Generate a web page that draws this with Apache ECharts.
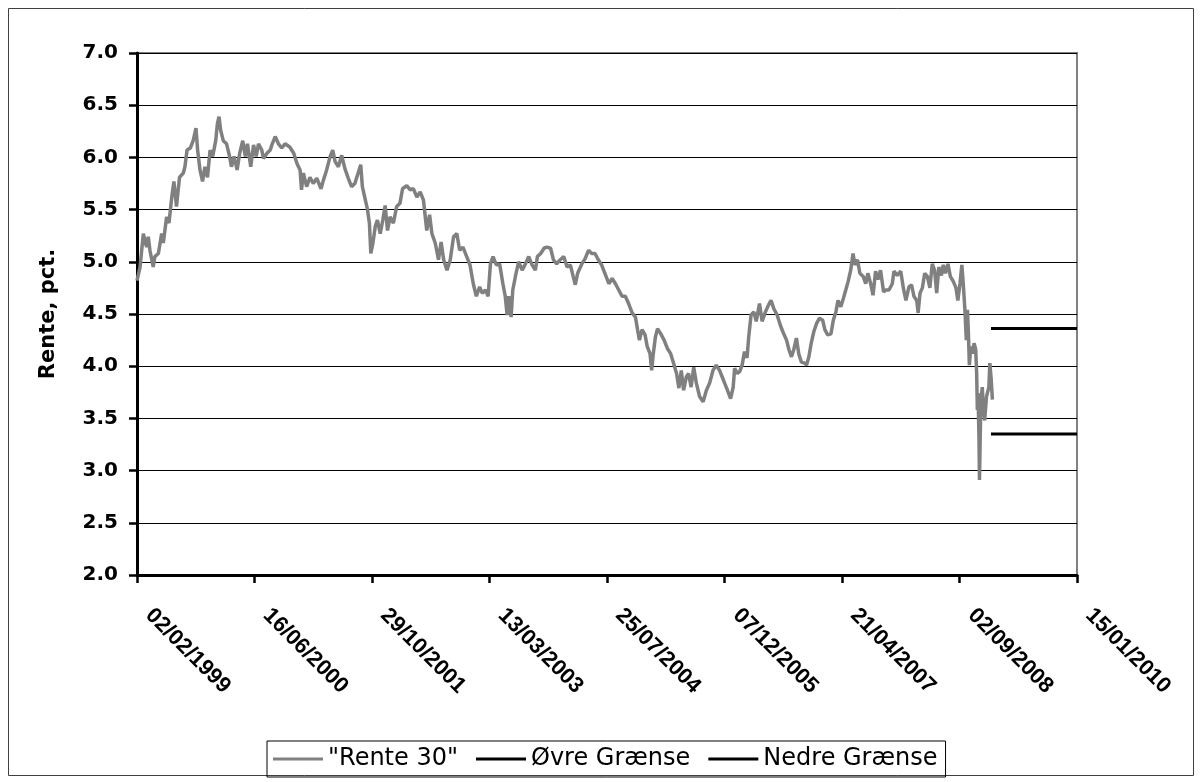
<!DOCTYPE html>
<html>
<head>
<meta charset="utf-8">
<script src="https://cdn.jsdelivr.net/npm/echarts@6/dist/echarts.min.js"></script>
<style>
html,body{margin:0;padding:0;background:#fff;}
#chart{width:1202px;height:782px;}
</style>
</head>
<body>
<div id="chart"></div>
<script>
// ---- data ----
const rente30Dates = [
'1999-02-02','1999-02-15','1999-03-01','1999-03-15','1999-03-22','1999-03-29','1999-04-12','1999-04-19','1999-05-04','1999-05-18',
'1999-05-25','1999-06-08','1999-06-18','1999-06-30','1999-07-09','1999-07-20','1999-08-02','1999-08-18','1999-08-25','1999-09-03',
'1999-09-17','1999-09-29','1999-10-11','1999-10-18','1999-10-28','1999-11-08','1999-11-18','1999-11-29','1999-12-10','1999-12-21',
'2000-01-03','2000-01-10','2000-01-17','2000-01-24','2000-02-04','2000-02-18','2000-03-01','2000-03-10','2000-03-21','2000-04-03',
'2000-04-14','2000-04-27','2000-05-08','2000-05-17','2000-05-31','2000-06-12','2000-06-23','2000-07-03','2000-07-17','2000-07-24',
'2000-08-08','2000-08-22','2000-08-29','2000-09-12','2000-09-26','2000-10-10','2000-10-24','2000-11-13','2000-11-30','2000-12-14',
'2000-12-27','2001-01-02','2001-01-10','2001-01-24','2001-02-07','2001-02-21','2001-03-08','2001-03-26','2001-04-05','2001-04-19',
'2001-05-04','2001-05-15','2001-05-25','2001-06-08','2001-06-22','2001-07-06','2001-07-20','2001-08-03','2001-08-17','2001-08-31',
'2001-09-11','2001-09-18','2001-09-28','2001-10-09','2001-10-18','2001-10-24','2001-11-02','2001-11-12','2001-11-21','2001-12-03',
'2001-12-14','2001-12-24','2002-01-03','2002-01-14','2002-01-28','2002-02-11','2002-02-25','2002-03-08','2002-03-26','2002-04-09',
'2002-04-23','2002-05-08','2002-05-22','2002-06-05','2002-06-19','2002-07-01','2002-07-11','2002-07-25','2002-08-08','2002-08-19',
'2002-08-30','2002-09-13','2002-09-27','2002-10-11','2002-10-25','2002-11-06','2002-11-20','2002-12-06','2002-12-20','2003-01-03',
'2003-01-16','2003-01-30','2003-02-10','2003-02-24','2003-03-07','2003-03-17','2003-03-28','2003-04-11','2003-04-25','2003-05-09',
'2003-05-19','2003-05-27','2003-06-03','2003-06-13','2003-06-20','2003-07-04','2003-07-15','2003-07-30','2003-08-13','2003-08-27',
'2003-09-10','2003-09-24','2003-10-03','2003-10-17','2003-10-31','2003-11-12','2003-11-28','2003-12-10','2003-12-24','2004-01-08',
'2004-01-23','2004-02-06','2004-02-20','2004-03-03','2004-03-12','2004-03-22','2004-04-09','2004-04-23','2004-05-07','2004-05-21',
'2004-06-04','2004-06-18','2004-07-02','2004-07-16','2004-08-02','2004-08-16','2004-08-30','2004-09-13','2004-09-27','2004-10-11',
'2004-10-25','2004-11-09','2004-11-23','2004-12-02','2004-12-10','2004-12-21','2005-01-03','2005-01-12','2005-01-24','2005-01-31',
'2005-02-07','2005-02-16','2005-02-25','2005-03-11','2005-03-25','2005-04-08','2005-04-22','2005-05-04','2005-05-17','2005-05-27',
'2005-06-06','2005-06-16','2005-06-28','2005-07-07','2005-07-18','2005-07-29','2005-08-09','2005-08-23','2005-09-07','2005-09-21',
'2005-10-05','2005-10-19','2005-11-02','2005-11-16','2005-12-02','2005-12-16','2006-01-02','2006-01-13','2006-01-19','2006-01-31',
'2006-02-10','2006-02-20','2006-03-02','2006-03-13','2006-03-20','2006-03-30','2006-04-11','2006-04-21','2006-05-05','2006-05-16',
'2006-05-30','2006-06-13','2006-06-23','2006-07-05','2006-07-19','2006-08-02','2006-08-16','2006-08-28','2006-09-07','2006-09-18',
'2006-09-28','2006-10-09','2006-10-19','2006-10-30','2006-11-13','2006-11-21','2006-12-01','2006-12-11','2006-12-22','2007-01-03',
'2007-01-15','2007-01-29','2007-02-07','2007-02-19','2007-03-05','2007-03-15','2007-03-26','2007-04-04','2007-04-16','2007-04-27',
'2007-05-07','2007-05-17','2007-05-28','2007-06-07','2007-06-15','2007-06-26','2007-07-06','2007-07-20','2007-07-31','2007-08-09',
'2007-08-21','2007-08-31','2007-09-11','2007-09-21','2007-10-02','2007-10-15','2007-10-24','2007-11-07','2007-11-21','2007-11-28',
'2007-12-12','2007-12-27','2008-01-07','2008-01-18','2008-01-31','2008-02-11','2008-02-21','2008-03-04','2008-03-10','2008-03-18',
'2008-03-28','2008-04-07','2008-04-18','2008-04-29','2008-05-09','2008-05-19','2008-05-28','2008-06-06','2008-06-17','2008-06-25',
'2008-07-04','2008-07-15','2008-07-25','2008-08-07','2008-08-18','2008-08-26','2008-09-04','2008-09-12','2008-09-18','2008-09-25',
'2008-10-01','2008-10-06','2008-10-10','2008-10-14','2008-10-20','2008-10-27','2008-11-03','2008-11-10','2008-11-14','2008-11-17',
'2008-11-20','2008-11-24','2008-11-26','2008-11-28','2008-12-02','2008-12-08','2008-12-12','2008-12-18','2008-12-26','2009-01-05',
'2009-01-09','2009-01-15','2009-01-20'
];
const rente30Values = [
4.82,4.95,5.27,5.14,5.24,5.11,4.95,5.05,5.08,5.27,
5.18,5.43,5.37,5.62,5.77,5.53,5.81,5.85,5.91,6.07,
6.09,6.16,6.28,6.07,5.88,5.77,5.91,5.81,6.07,6.01,
6.16,6.32,6.39,6.26,6.16,6.13,6.02,5.91,6.01,5.88,
6.04,6.16,6.01,6.13,5.91,6.12,6.01,6.13,6.07,5.99,
6.04,6.07,6.12,6.20,6.13,6.09,6.13,6.10,6.04,5.94,
5.88,5.69,5.85,5.72,5.81,5.75,5.80,5.70,5.78,5.88,
6.01,6.07,5.96,5.91,6.02,5.89,5.80,5.72,5.75,5.85,
5.93,5.72,5.62,5.51,5.37,5.08,5.18,5.34,5.40,5.27,
5.40,5.54,5.30,5.43,5.37,5.53,5.56,5.70,5.73,5.69,
5.70,5.62,5.67,5.59,5.30,5.45,5.27,5.18,5.02,5.19,
5.02,4.92,5.02,5.24,5.27,5.11,5.14,5.05,4.97,4.79,
4.67,4.76,4.70,4.73,4.67,4.98,5.05,4.97,4.98,4.79,
4.67,4.49,4.67,4.47,4.73,4.89,5.00,4.92,4.98,5.05,
4.97,4.92,5.05,5.08,5.13,5.14,5.13,5.02,4.98,5.02,
5.05,4.95,4.97,4.86,4.78,4.89,4.98,5.03,5.11,5.08,
5.08,5.02,4.97,4.89,4.79,4.84,4.79,4.73,4.67,4.67,
4.60,4.51,4.47,4.35,4.25,4.35,4.30,4.19,4.12,3.96,
4.12,4.28,4.36,4.31,4.25,4.17,4.12,4.03,3.93,3.79,
3.96,3.77,3.90,3.93,3.80,3.99,3.84,3.71,3.66,3.77,
3.84,3.96,4.01,3.96,3.87,3.79,3.69,3.80,3.98,3.93,
3.95,4.01,4.14,4.08,4.28,4.49,4.52,4.43,4.60,4.43,
4.52,4.59,4.63,4.55,4.49,4.39,4.31,4.25,4.16,4.09,
4.16,4.27,4.12,4.04,4.03,4.01,4.09,4.22,4.33,4.41,
4.46,4.44,4.35,4.30,4.31,4.44,4.52,4.63,4.57,4.65,
4.73,4.81,4.92,5.08,4.97,5.02,4.89,4.86,4.79,4.89,
4.79,4.68,4.91,4.83,4.92,4.71,4.73,4.73,4.79,4.91,
4.87,4.91,4.75,4.63,4.76,4.78,4.67,4.63,4.51,4.70,
4.75,4.89,4.86,4.75,4.98,4.92,4.70,4.95,4.87,4.97,
4.89,4.98,4.86,4.81,4.75,4.63,4.79,4.97,4.79,4.54,
4.25,4.54,4.31,4.01,4.19,4.12,4.22,4.16,3.93,3.58,
3.74,3.29,2.91,3.17,3.68,3.80,3.61,3.48,3.71,3.80,
4.03,3.87,3.68
];
const boundDates = ['2009-01-14','2010-01-15'];
const upperBound = [4.36, 4.36];   // "Øvre Grænse"
const lowerBound = [3.35, 3.35];   // "Nedre Grænse"
const xTickLabels = ['02/02/1999','16/06/2000','29/10/2001','13/03/2003','25/07/2004','07/12/2005','21/04/2007','02/09/2008','15/01/2010'];
const seriesNames = ['"Rente 30"','Øvre Grænse','Nedre Grænse'];

// ---- helpers: x axis counts days from 02/02/1999 (500 days between ticks) ----
const ORIGIN = Date.UTC(1999, 1, 2);
const DAY = 86400000;
function dayOffset(s) {
  const p = s.split('-').map(Number);
  return Math.round((Date.UTC(p[0], p[1] - 1, p[2]) - ORIGIN) / DAY);
}
function pairs(dates, vals) { return dates.map((d, i) => [dayOffset(d), vals[i]]); }

const chart = echarts.init(document.getElementById('chart'), null, {renderer: 'canvas'});
const wideFont = 'DejaVu Sans';
chart.setOption({
  animation: false,
  backgroundColor: '#ffffff',
  graphic: [{
    type: 'rect', z: -1, silent: true,
    shape: {x: 8.5, y: 8.5, width: 1185, height: 767},
    style: {fill: 'none', stroke: '#404040', lineWidth: 1}
  }],
  grid: {
    left: 137, right: 125, top: 53, bottom: 207,
    show: true, borderColor: '#808080', borderWidth: 2, backgroundColor: 'transparent'
  },
  legend: {
    left: 267, top: 741,
    icon: 'rect', itemWidth: 50, itemHeight: 3, itemGap: 18,
    borderColor: '#000', borderWidth: 1, padding: [6, 8, 6, 6],
    textStyle: {fontFamily: wideFont, fontSize: 24, color: '#000'},
    data: seriesNames
  },
  xAxis: {
    type: 'value', min: 0, max: 4000, interval: 500,
    axisLine: {show: true, onZero: false, lineStyle: {color: '#000', width: 3}},
    axisTick: {show: true, length: 8, lineStyle: {color: '#000', width: 2.5}},
    splitLine: {show: false},
    axisLabel: {
      rotate: -45, margin: 25, padding: [0, 0, 0, 17],
      fontFamily: 'Liberation Sans', fontWeight: 'bold', fontSize: 22, color: '#000',
      showMinLabel: true, showMaxLabel: true, hideOverlap: false,
      formatter: v => xTickLabels[Math.round(v / 500)]
    }
  },
  yAxis: {
    type: 'value', min: 2, max: 7, interval: 0.5,
    name: 'Rente, pct.', nameLocation: 'middle', nameGap: 78, nameRotate: 90,
    nameTextStyle: {fontFamily: wideFont, fontWeight: 'bold', fontSize: 21, color: '#000'},
    axisLine: {show: true, lineStyle: {color: '#000', width: 3}},
    axisTick: {show: true, length: 8, lineStyle: {color: '#000', width: 2.5}},
    splitLine: {show: true, lineStyle: {color: '#000', width: 1}},
    axisLabel: {
      margin: 19, fontFamily: wideFont, fontWeight: 'bold', fontSize: 20, color: '#000',
      formatter: v => v.toFixed(1)
    }
  },
  series: [
    {name: seriesNames[0], type: 'line', data: pairs(rente30Dates, rente30Values),
     showSymbol: false, symbol: 'none', color: '#808080', lineStyle: {color: '#808080', width: 3.5}, z: 3},
    {name: seriesNames[1], type: 'line', data: pairs(boundDates, upperBound),
     showSymbol: false, symbol: 'none', color: '#000', lineStyle: {color: '#000', width: 3}, z: 4},
    {name: seriesNames[2], type: 'line', data: pairs(boundDates, lowerBound),
     showSymbol: false, symbol: 'none', color: '#000', lineStyle: {color: '#000', width: 3}, z: 4}
  ]
});
</script>
</body>
</html>
